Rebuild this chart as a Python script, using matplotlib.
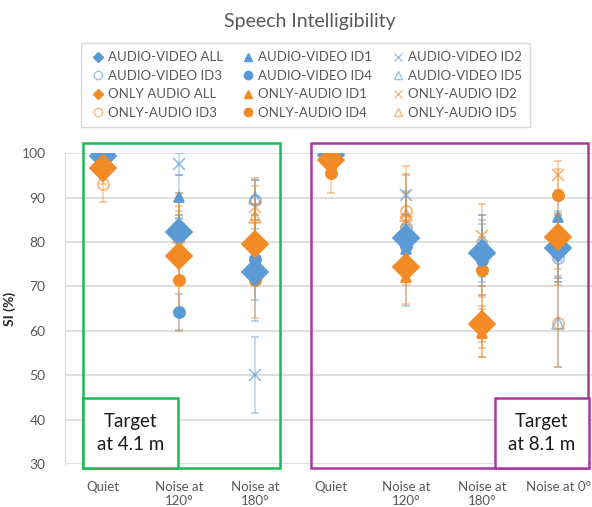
import numpy as np
import matplotlib.pyplot as plt
from matplotlib.lines import Line2D
from matplotlib.patches import Rectangle

plt.rcParams['font.family'] = ['Lato', 'DejaVu Sans']

# kategorie na osi x
kategorie = ["Quiet", "Noise at\n120°", "Noise at\n180°",
             "Quiet", "Noise at\n120°", "Noise at\n180°", "Noise at 0°"]

# wartosci SI (%) - audio-video
av_all = [99.3, 82.3, 73.3, 99.5, 80.9, 77.5, 78.6]
av_id1 = [99.5, 90.1, 75.0, 99.5, 78.5, 77.0, 85.6]
av_id2 = [99.0, 97.5, 50.0, 99.5, 90.5, 78.0, 78.0]
av_id3 = [99.0, 83.0, 89.5, 99.5, 83.3, 79.0, 76.3]
av_id4 = [99.5, 64.2, 76.2, 99.0, 79.0, 76.0, 79.0]
av_id5 = [99.0, 82.0, 90.0, 99.5, 82.0, 78.0, 61.8]

# wartosci SI (%) - only audio
oa_all = [96.6, 76.9, 79.5, 98.4, 74.3, 61.5, 81.2]
oa_id1 = [96.0, 78.0, 79.0, 99.0, 72.0, 59.5, 80.0]
oa_id2 = [98.0, 83.0, 87.8, 98.5, 84.5, 81.3, 95.0]
oa_id3 = [93.0, 82.0, 80.0, 98.5, 87.0, 62.0, 61.8]
oa_id4 = [97.0, 71.4, 71.4, 95.5, 80.8, 73.7, 90.5]
oa_id5 = [97.0, 81.0, 85.6, 98.0, 86.0, 62.0, 78.4]

# odchylenia (error bars)
av_all_err = [1.0, 3.0, 3.0, 0.8, 3.0, 3.0, 3.0]
av_id1_err = [1.0, 5.0, 8.0, 1.0, 13.0, 9.0, 5.0]
av_id2_err = [1.0, 2.5, 8.5, 1.0, 4.5, 8.0, 7.0]
av_id3_err = [1.0, 3.0, 4.5, 1.0, 3.0, 6.0, 4.0]
av_id4_err = [1.0, 4.0, 14.0, 1.0, 4.0, 5.0, 8.0]
av_id5_err = [1.0, 4.0, 4.0, 1.0, 4.0, 6.0, 10.0]
oa_all_err = [2.5, 6.0, 5.0, 2.0, 4.0, 4.0, 5.0]
oa_id1_err = [3.0, 13.0, 6.0, 2.0, 6.0, 5.5, 6.0]
oa_id2_err = [2.0, 8.0, 6.6, 2.0, 10.8, 7.2, 3.2]
oa_id3_err = [4.0, 6.0, 6.0, 2.0, 10.0, 8.0, 10.0]
oa_id4_err = [2.0, 11.5, 8.6, 4.5, 5.0, 6.0, 6.0]
oa_id5_err = [2.0, 6.0, 7.0, 2.0, 5.0, 6.0, 8.0]

nazwy = ["AUDIO-VIDEO ALL", "AUDIO-VIDEO ID1", "AUDIO-VIDEO ID2",
         "AUDIO-VIDEO ID3", "AUDIO-VIDEO ID4", "AUDIO-VIDEO ID5",
         "ONLY AUDIO ALL", "ONLY-AUDIO ID1", "ONLY-AUDIO ID2",
         "ONLY-AUDIO ID3", "ONLY-AUDIO ID4", "ONLY-AUDIO ID5"]

wartosci = [av_all, av_id1, av_id2, av_id3, av_id4, av_id5,
            oa_all, oa_id1, oa_id2, oa_id3, oa_id4, oa_id5]
bledy = [av_all_err, av_id1_err, av_id2_err, av_id3_err, av_id4_err, av_id5_err,
         oa_all_err, oa_id1_err, oa_id2_err, oa_id3_err, oa_id4_err, oa_id5_err]

niebieski = '#5B9BD5'
pomaranczowy = '#F28A26'
szary = '#595959'

# styl markerow: (marker, wypelniony, rozmiar, alpha)
style = [('D', True, 13.5, 1.0), ('^', True, 7, 1.0), ('x', False, 8, 0.6),
         ('o', False, 8, 0.6), ('o', True, 8, 1.0), ('^', False, 8, 0.6)]

fig = plt.figure(figsize=(5.92, 5.07), dpi=100)
ax = fig.add_axes([0.110, 0.085, 0.897, 0.613])

x = np.arange(len(kategorie))
kolejnosc_rys = [1, 2, 3, 4, 5, 7, 8, 9, 10, 11, 0, 6]
for i in kolejnosc_rys:
    kolor = niebieski if i < 6 else pomaranczowy
    marker, pelny, ms, a = style[i % 6]
    z = 5 if i % 6 == 0 else 3
    ax.errorbar(x, wartosci[i], yerr=bledy[i], fmt=marker, linestyle='none',
                color=kolor, ecolor=kolor, elinewidth=1.1, capsize=3, capthick=1.1,
                ms=ms, mfc=kolor if pelny else 'none', mec=kolor, mew=1.3,
                alpha=1.0, zorder=z)
    # przezroczyste linie bledow
    ax.containers[-1][2][0].set_alpha(0.45)
    for c in ax.containers[-1][1]:
        c.set_alpha(0.45)
    if not pelny:
        ax.containers[-1][0].set_alpha(a)

ax.set_xlim(-0.5, 6.5)
ax.set_ylim(30, 100)
ax.set_yticks(np.arange(30, 101, 10))
ax.set_xticks(x)
ax.set_xticklabels(kategorie, color=szary, fontsize=9.5)
ax.tick_params(axis='y', colors=szary, labelsize=10, length=0, pad=14)
ax.tick_params(axis='x', length=0, pad=12)
ax.grid(axis='y', color='#D9D9D9', lw=1.2)
ax.set_axisbelow(True)
for s in ['top', 'right', 'bottom']:
    ax.spines[s].set_visible(False)
ax.spines['left'].set_color('#D9D9D9')
ax.set_ylabel("SI (%)", fontweight='bold', fontsize=10, color='#262626', labelpad=4)

# ramki
ax.add_patch(Rectangle((-0.26, 29.05), 2.595, 73.2, fill=False, ec='#1DB954',
                       lw=1.8, clip_on=False, zorder=6))
ax.add_patch(Rectangle((2.744, 29.05), 3.655, 73.2, fill=False, ec='#A8389E',
                       lw=1.8, clip_on=False, zorder=6))
ax.add_patch(Rectangle((-0.26, 29.05), 1.25, 15.75, fc='white', ec='#1DB954',
                       lw=1.8, clip_on=False, zorder=7))
ax.add_patch(Rectangle((5.17, 29.05), 1.23, 15.75, fc='white', ec='#A8389E',
                       lw=1.8, clip_on=False, zorder=7))
ax.text(0.365, 36.9, "Target\nat 4.1 m", ha='center', va='center', fontsize=13.5,
        color='#1a1a1a', zorder=8, linespacing=1.4)
ax.text(5.785, 36.9, "Target\nat 8.1 m", ha='center', va='center', fontsize=13.5,
        color='#1a1a1a', zorder=8, linespacing=1.4)

fig.text(0.523, 0.958, "Speech Intelligibility", ha='center', va='center',
         fontsize=14, color=szary)

# legenda
uchwyty = []
for i in range(12):
    kolor = niebieski if i < 6 else pomaranczowy
    marker, pelny, ms, a = style[i % 6]
    uchwyty.append(Line2D([], [], marker=marker, linestyle='none', color=kolor,
                          mfc=kolor if pelny else 'none', mec=kolor,
                          ms=5 if marker == 'D' else 6,
                          alpha=a if not pelny else 1.0))
kol = [0, 3, 6, 9, 1, 4, 7, 10, 2, 5, 8, 11]
leg = fig.legend([uchwyty[k] for k in kol], [nazwy[k] for k in kol], ncol=3,
                 loc='center', bbox_to_anchor=(0.516, 0.832), fontsize=9.5,
                 frameon=True, fancybox=False, handletextpad=0.1,
                 columnspacing=1.3, labelspacing=0.5, handlelength=1.3,
                 borderpad=0.6)
leg.get_frame().set_edgecolor('#D0D0D0')
for t in leg.get_texts():
    t.set_color(szary)

plt.savefig('out.png', dpi=100)
